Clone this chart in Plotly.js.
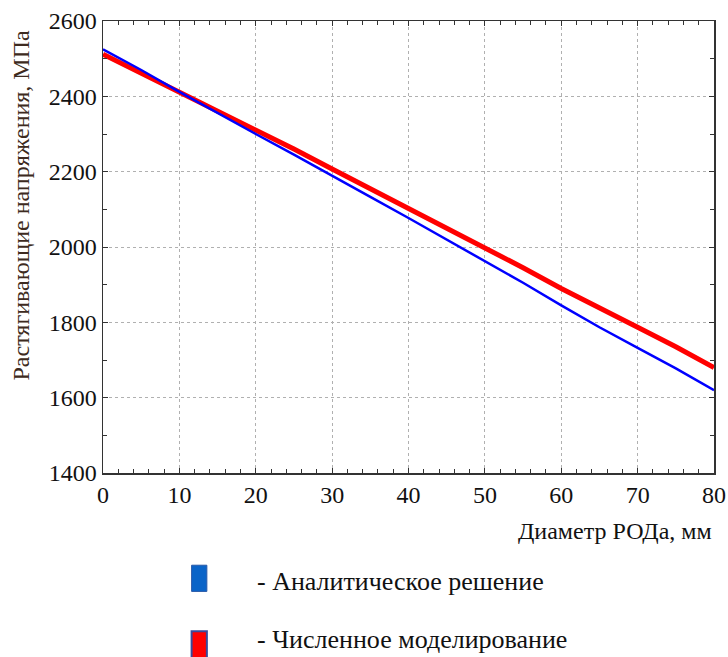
<!DOCTYPE html>
<html>
<head>
<meta charset="utf-8">
<script src="https://cdn.plot.ly/plotly-3.0.1.min.js"></script>
<style>html,body{margin:0;padding:0;background:#fff;}#chart{width:728px;height:657px;}</style>
</head>
<body>
<div id="chart"></div>
<script>
// Diameter of ROD, mm
const diameter = [0, 5, 10, 15, 20, 25, 30, 35, 40, 45, 50, 55, 60, 65, 70, 75, 80];
// Analytical solution, MPa
const analytic = [2525, 2470, 2412, 2355, 2300, 2245, 2190, 2133, 2077, 2020, 1963, 1905, 1845, 1787, 1732, 1678, 1620];
// Numerical modelling, MPa
const numeric = [2512, 2462, 2412, 2360, 2310, 2260, 2207, 2155, 2103, 2050, 1997, 1945, 1890, 1840, 1787, 1735, 1680];
const xTicks = [0, 10, 20, 30, 40, 50, 60, 70, 80];
const yTicks = [1400, 1600, 1800, 2000, 2200, 2400, 2600];
const seriesNames = ['- Аналитическое решение', '- Численное моделирование'];
const xTitle = 'Диаметр РОДа, мм';
const yTitle = 'Растягивающие напряжения, МПа';

const FONT = 'Liberation Serif, Times New Roman, serif';

const traces = [
  {x: diameter, y: numeric, type: 'scatter', mode: 'lines', name: seriesNames[1],
   line: {color: '#ff0000', width: 5}},
  {x: diameter, y: analytic, type: 'scatter', mode: 'lines', name: seriesNames[0],
   line: {color: '#0000ff', width: 2.5}}
];

const axisCommon = {
  showline: true, linecolor: '#333', linewidth: 1.5, mirror: 'allticks',
  ticks: 'inside', ticklen: 5, tickcolor: '#333',
  showgrid: true, gridcolor: '#b0b0b0', griddash: 'dot', gridwidth: 1,
  zeroline: false,
  tickfont: {family: FONT, size: 24, color: '#111'}
};

const layout = {
  width: 728, height: 657,
  margin: {l: 103, r: 14, t: 21, b: 184},
  paper_bgcolor: '#fff', plot_bgcolor: '#fff',
  showlegend: false,
  xaxis: Object.assign({}, axisCommon, {
    range: [0, 80], tickvals: xTicks, ticktext: xTicks.map(String),
    minor: {dtick: 2, tick0: 0, ticks: 'inside', ticklen: 4, tickcolor: '#333', showgrid: false}
  }),
  yaxis: Object.assign({}, axisCommon, {
    range: [1400, 2600], tickvals: yTicks, ticktext: yTicks.map(String),
    minor: {dtick: 100, tick0: 1400, ticks: 'inside', ticklen: 4, tickcolor: '#333', showgrid: false}
  }),
  annotations: [
    {text: xTitle, xref: 'paper', yref: 'paper', x: 1.0, y: -0.128, xanchor: 'right', yanchor: 'middle',
     showarrow: false, font: {family: FONT, size: 24, color: '#111'}},
    {text: yTitle, xref: 'paper', yref: 'paper', x: -0.135, y: 0.593, xanchor: 'center', yanchor: 'middle',
     textangle: -90, showarrow: false, font: {family: FONT, size: 24, color: '#3d2a20'}},
    {text: seriesNames[0], xref: 'paper', yref: 'paper', x: 0.249, y: -0.241, xanchor: 'left', yanchor: 'middle',
     showarrow: false, font: {family: FONT, size: 26, color: '#111'}},
    {text: seriesNames[1], xref: 'paper', yref: 'paper', x: 0.249, y: -0.368, xanchor: 'left', yanchor: 'middle',
     showarrow: false, font: {family: FONT, size: 26, color: '#111'}}
  ],
  shapes: [
    {type: 'rect', xref: 'paper', yref: 'paper', x0: 0.145, x1: 0.170, y0: -0.204, y1: -0.262,
     fillcolor: '#0a64c8', line: {color: '#2a5aa8', width: 1}},
    {type: 'rect', xref: 'paper', yref: 'paper', x0: 0.145, x1: 0.170, y0: -0.350, y1: -0.410,
     fillcolor: '#ff0000', line: {color: '#3a4a9a', width: 2}}
  ]
};

Plotly.newPlot('chart', traces, layout, {displayModeBar: false, staticPlot: true});
</script>
</body>
</html>
